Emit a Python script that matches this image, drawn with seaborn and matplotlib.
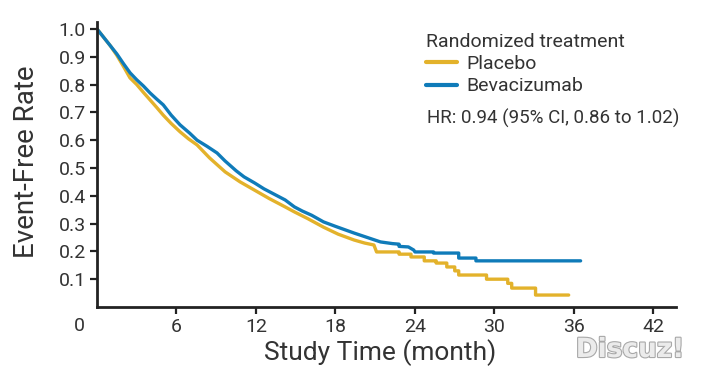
import numpy as np
import pandas as pd
import matplotlib
matplotlib.use("Agg")
import matplotlib.pyplot as plt
import seaborn as sns
import matplotlib.patheffects as pe

# ---- data (curve vertices) ----
bev_months = [0, 0.5, 1, 1.5, 2, 2.5, 3, 3.5, 4, 4.5, 5, 5.6, 6.27, 7, 7.55, 8.3, 9.06,
              9.67, 10.5, 11.1, 11.9, 12.6, 13.4, 14.2, 14.9, 15.5, 16.2, 17.1, 18, 18.7,
              19.4, 20.4, 21.4, 22.3, 22.8, 22.8, 23.5, 23.9, 24.0, 25.4, 25.4, 27.3, 27.3,
              28.6, 28.6, 36.5]
bev_rate = [1.0, 0.97, 0.94, 0.91, 0.875, 0.842, 0.817, 0.795, 0.77, 0.748, 0.727, 0.69,
            0.655, 0.625, 0.60, 0.578, 0.554, 0.525, 0.49, 0.468, 0.446, 0.425, 0.405,
            0.385, 0.36, 0.345, 0.33, 0.306, 0.29, 0.278, 0.266, 0.25, 0.234, 0.228, 0.226,
            0.218, 0.216, 0.205, 0.198, 0.198, 0.194, 0.194, 0.176, 0.176, 0.166, 0.166]

pla_months = [0, 0.5, 1, 1.5, 2, 2.49, 3, 3.5, 4, 4.5, 5, 5.6, 6.27, 6.9, 7.55, 8.5, 9.67,
              10.8, 11.9, 13.0, 14.2, 14.9, 15.9, 17.1, 18.2, 19.4, 20.2, 20.9, 21.1, 22.8,
              22.8, 23.7, 23.7, 24.7, 24.7, 25.6, 25.6, 26.4, 26.4, 27.0, 27.0, 27.3, 27.3,
              29.4, 29.4, 31.0, 31.0, 31.3, 31.3, 33.1, 33.1, 35.6]
pla_rate = [1.0, 0.97, 0.94, 0.905, 0.865, 0.824, 0.80, 0.772, 0.745, 0.718, 0.69, 0.66,
            0.63, 0.605, 0.583, 0.536, 0.486, 0.45, 0.42, 0.39, 0.36, 0.342, 0.318, 0.287,
            0.262, 0.241, 0.23, 0.223, 0.198, 0.198, 0.19, 0.19, 0.18, 0.18, 0.166, 0.166,
            0.158, 0.158, 0.144, 0.144, 0.13, 0.13, 0.115, 0.115, 0.10, 0.10, 0.085, 0.085,
            0.068, 0.068, 0.043, 0.043]

groups = ["Placebo", "Bevacizumab"]
colors = ["#E3B22B", "#0F7BB9"]
x_ticks = [6, 12, 18, 24, 30, 36, 42]
y_ticks = [0.1, 0.2, 0.3, 0.4, 0.5, 0.6, 0.7, 0.8, 0.9, 1.0]
y_ticklabels = ["0.1", "0.2", "0.3", "0.4", "0.5", "0.6", "0.7", "0.8", "0.9", "1.0"]

df = pd.concat([
    pd.DataFrame({"month": pla_months, "rate": pla_rate, "group": groups[0]}),
    pd.DataFrame({"month": bev_months, "rate": bev_rate, "group": groups[1]}),
], ignore_index=True)

sns.set_style("white")
plt.rcParams["font.family"] = ["Roboto", "DejaVu Sans"]

fig = plt.figure(figsize=(7.01, 3.75), dpi=100)
ax = fig.add_axes([97 / 701, 68 / 375, 579 / 701, 285 / 375])

sns.lineplot(data=df, x="month", y="rate", hue="group", hue_order=groups,
             palette=colors, estimator=None, sort=False, linewidth=2.4, ax=ax)

ax.set_xlim(0, 43.7)
ax.set_ylim(0, 1.025)
ax.set_xticks(x_ticks)
ax.set_xticklabels([str(t) for t in x_ticks])
ax.set_yticks(y_ticks)
ax.set_yticklabels(y_ticklabels)
ax.tick_params(axis="both", which="major", direction="out", length=5, width=1.6,
               color="#222222", labelsize=14, labelcolor="#333333", pad=3, left=True, bottom=True)
for side in ["top", "right"]:
    ax.spines[side].set_visible(False)
for side in ["left", "bottom"]:
    ax.spines[side].set_linewidth(2.0)
    ax.spines[side].set_color("#222222")

ax.set_xlabel("Study Time (month)", fontsize=19, color="#333333")
ax.set_ylabel("Event-Free Rate", fontsize=20, color="#333333")
ax.xaxis.set_label_coords(0.489, -0.112)
ax.yaxis.set_label_coords(-0.098, 0.509)

# origin label
ax.text(-1.3, -0.068, "0", transform=ax.transData, ha="center", va="center",
        fontsize=14, color="#333333", clip_on=False)

handles, labels = ax.get_legend_handles_labels()
leg = ax.legend(handles, labels, title="Randomized treatment", loc="upper left",
                bbox_to_anchor=(0.568, 0.962), frameon=False, alignment="left",
                handlelength=1.6, handletextpad=0.5, labelspacing=0.22,
                borderaxespad=0, borderpad=0, fontsize=14, title_fontsize=14)
for t in leg.get_texts():
    t.set_color("#333333")
leg.get_title().set_color("#333333")
for h in leg.legend_handles:
    h.set_linewidth(3)

ax.text(0.570, 0.663, "HR: 0.94 (95% CI, 0.86 to 1.02)", transform=ax.transAxes,
        ha="left", va="center", fontsize=13.5, color="#333333")

fig.text(630 / 701, 1 - 350 / 375, "Discuz!", ha="center", va="center", fontsize=19,
         fontweight="bold", color="#EBEBEB", family="DejaVu Sans",
         path_effects=[pe.withStroke(linewidth=1.6, foreground="#A8A8A8")])

fig.savefig("out.png", dpi=100)
